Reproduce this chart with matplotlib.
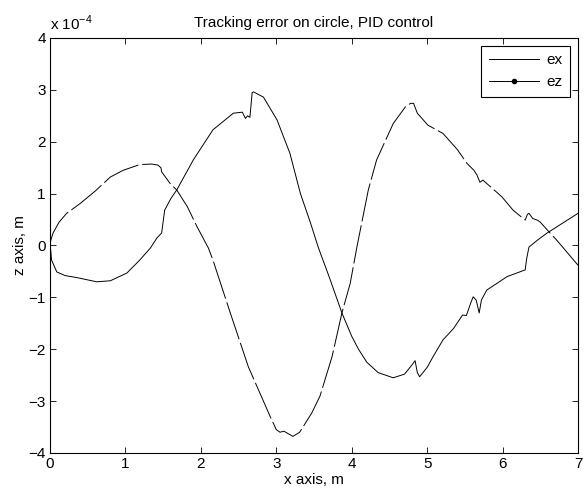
import matplotlib
matplotlib.use('Agg')
import matplotlib.pyplot as plt
from matplotlib.lines import Line2D

plt.rcParams['font.family'] = ['Liberation Sans', 'DejaVu Sans']
plt.rcParams['font.size'] = 11
plt.rcParams['mathtext.fontset'] = 'custom'
plt.rcParams['mathtext.rm'] = 'Liberation Sans'

# tracking error, units of 1e-4 m
ex_x = [0, 0.01, 0.02, 0.09, 0.2, 0.36, 0.62, 0.8, 1.02, 1.19, 1.33, 1.42, 1.48, 1.52,
        1.6, 1.68, 1.9, 2.16, 2.43, 2.55, 2.59, 2.62, 2.65, 2.68, 2.7, 2.83, 3.01, 3.18,
        3.32, 3.45, 3.56, 3.7, 3.87, 4.0, 4.09, 4.2, 4.35, 4.55, 4.7, 4.8, 4.84, 4.87,
        4.9, 5.0, 5.08, 5.21, 5.35, 5.47, 5.52, 5.58, 5.61, 5.65, 5.69, 5.72, 5.79, 6.06,
        6.3, 6.32, 6.35, 6.46, 6.59, 7.0]
ex_y = [0, -0.1, -0.28, -0.51, -0.58, -0.62, -0.7, -0.68, -0.53, -0.28, -0.05, 0.15,
        0.24, 0.68, 0.9, 1.07, 1.65, 2.23, 2.55, 2.57, 2.45, 2.5, 2.47, 2.95, 2.96, 2.86,
        2.42, 1.78, 1.0, 0.45, -0.05, -0.6, -1.3, -1.75, -2.0, -2.25, -2.45, -2.55, -2.48,
        -2.3, -2.22, -2.45, -2.53, -2.35, -2.14, -1.82, -1.6, -1.34, -1.35, -1.1, -0.99,
        -1.05, -1.3, -1.05, -0.86, -0.6, -0.47, -0.25, -0.03, 0.1, 0.24, 0.62]

ez_x = [0, 0.01, 0.04, 0.12, 0.22, 0.4, 0.6, 0.8, 0.97, 1.19, 1.35, 1.43, 1.47, 1.48,
        1.59, 1.68, 1.82, 1.95, 2.1, 2.16, 2.39, 2.63, 2.92, 3.0, 3.05, 3.1, 3.15, 3.22,
        3.31, 3.47, 3.58, 3.74, 3.87, 3.98, 4.07, 4.22, 4.33, 4.55, 4.71, 4.78, 4.82,
        4.87, 5.01, 5.21, 5.4, 5.53, 5.62, 5.66, 5.7, 5.74, 5.99, 6.14, 6.3, 6.33, 6.35,
        6.4, 6.46, 6.5, 6.63, 6.72, 7.0]
ez_y = [0, 0.1, 0.24, 0.45, 0.62, 0.81, 1.05, 1.32, 1.45, 1.56, 1.57, 1.55, 1.5, 1.42,
        1.2, 1.07, 0.75, 0.36, -0.05, -0.28, -1.3, -2.34, -3.3, -3.55, -3.6, -3.58, -3.62,
        -3.68, -3.6, -3.23, -2.9, -2.14, -1.3, -0.73, -0.02, 1.07, 1.65, 2.35, 2.67, 2.74,
        2.74, 2.55, 2.32, 2.16, 1.85, 1.58, 1.45, 1.36, 1.22, 1.26, 0.94, 0.68, 0.49, 0.6,
        0.62, 0.52, 0.49, 0.45, 0.24, 0.1, -0.38]

fig = plt.figure(figsize=(5.83, 4.96), dpi=100)
ax = fig.add_axes([0.0858, 0.0867, 0.9056, 0.8367])

ax.plot(ex_x, ex_y, color='k', lw=0.7)
ax.plot(ez_x, ez_y, color='k', lw=0.7, linestyle=(0, (40, 4)))

ax.set_xlim(0, 7)
ax.set_ylim(-4, 4)
ax.set_xticks(range(0, 8))
ax.set_yticks(range(-4, 5))
ax.tick_params(direction='in', top=True, right=True, length=4, width=0.6, pad=3)
for s in ax.spines.values():
    s.set_linewidth(0.8)

ax.set_title('Tracking error on circle, PID control', fontsize=11, pad=8)
ax.set_xlabel('x axis, m', labelpad=1)
ax.set_ylabel('z axis, m', labelpad=1)
ax.text(0, 1.012, r'x 10$^{-4}$', transform=ax.transAxes, ha='left', va='bottom')

handles = [Line2D([], [], color='k', lw=0.7),
           Line2D([], [], color='k', lw=0.7, marker='.', markersize=6)]
leg = ax.legend(handles, ['ex', 'ez'], loc='upper right', fancybox=False,
                edgecolor='k', framealpha=1, numpoints=1, handlelength=3.3,
                borderaxespad=0.5, handletextpad=0.5, borderpad=0.5)
leg.get_frame().set_linewidth(0.8)

fig.savefig('out.png', dpi=100)
